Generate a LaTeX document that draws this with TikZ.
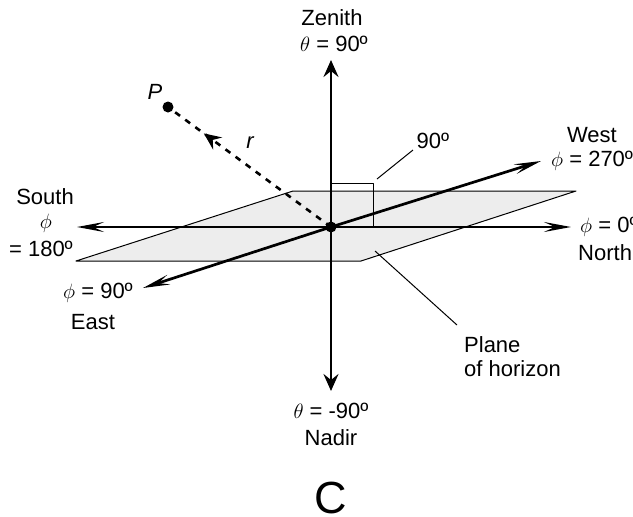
\documentclass[tikz,border=0pt]{standalone}
\usepackage{fontspec}
\setmainfont{Liberation Sans}
\usetikzlibrary{arrows.meta,decorations.markings}
\definecolor{planegray}{gray}{0.93}
\tikzset{
	lbl/.style={inner sep=0pt, font=\fontsize{22}{26}\selectfont},
	axis/.style={line width=2.7pt},
	tipfat/.style={-{Stealth[length=17pt,width=15pt,inset=6pt]}},
	tipthin/.style={-{Stealth[length=27pt,width=10pt,inset=11pt]}},
	leader/.style={line width=1pt},
}
\begin{document}
\begin{tikzpicture}[x=1pt, y=-1pt, line join=round]
	\useasboundingbox (0,0) rectangle (633,517);
	\coordinate (O) at (331,227);
	\coordinate (planeA) at (76,261); \coordinate (planeB) at (293,191);
	\coordinate (planeC) at (576,191); \coordinate (planeD) at (361,261);
	\coordinate (top) at (331,60); \coordinate (bottom) at (331,391);
	\coordinate (left) at (77,227); \coordinate (right) at (571,227);
	\coordinate (east) at (143,288); \coordinate (west) at (541,161);
	\coordinate (boxA) at (331,183); \coordinate (boxB) at (373,183); \coordinate (boxC) at (373,227);
	\coordinate (P) at (168,107);
	% plane
	\fill[planegray] (planeA)--(planeB)--(planeC)--(planeD)--cycle;
	\draw[leader] (planeA)--(planeB)--(planeC)--(planeD)--cycle;
	\draw[leader] (boxA)--(boxB)--(boxC);
	% axes
	\draw[axis,tipthin] (O)--(left);
	\draw[axis,tipthin] (O)--(right);
	\draw[axis,tipfat] (O)--(top);
	\draw[axis,tipfat] (O)--(bottom);
	\draw[axis,tipthin] (O)--(east);
	\draw[axis,tipthin] (O)--(west);
	\draw[line width=2.6pt,dash pattern=on 6pt off 6.5pt,decoration={markings,mark=at position .78 with {\arrow{Stealth[length=17pt,width=15pt,inset=6pt]}}},postaction={decorate}] (O)--(P);
	\fill (O) circle(5.5pt);
	\fill (P) circle(5.5pt);
	% labels
	\node[lbl] (zenith) at (332,18) {Zenith};
	\node[lbl] (zenithval) at (334,44) {$\theta$ = 90º};
	\node[lbl] (nadirval) at (331,411) {$\theta$ = -90º};
	\node[lbl] (nadir) at (331,438) {Nadir};
	\node[lbl] (pname) at (155,92) {\itshape P};
	\node[lbl] (rname) at (250,143) {\itshape r};
	\node[lbl] (angle) at (433,141) {90º};
	\node[lbl,anchor=east] (westname) at (617,135) {West};
	\node[lbl,anchor=west] (westval) at (551,161) {$\phi$ = 270º};
	\node[lbl] (south) at (45,197) {South};
	\node[lbl] (southphi) at (46,223) {$\phi$};
	\node[lbl,anchor=east] (southval) at (73,249) {= 180º};
	\node[lbl] (eastval) at (98,293) {$\phi$ = 90º};
	\node[lbl] (eastname) at (93,322) {East};
	\node[lbl,anchor=west] (northval) at (580,227) {$\phi$ = 0º};
	\node[lbl,anchor=west] (north) at (578,253) {North};
	\node[lbl,anchor=west] (planeone) at (464,345) {Plane};
	\node[lbl,anchor=west] (planetwo) at (464,369) {of horizon};
	\node[inner sep=0pt,font=\fontsize{45}{48}\selectfont] (panel) at (331,498) {C};
	% leaders
	\coordinate (angleleader) at (413,150); \coordinate (angleend) at (377,179);
	\coordinate (planeleader) at (457,325); \coordinate (planeend) at (375,251);
	\draw[leader] (angleleader)--(angleend);
	\draw[leader] (planeleader)--(planeend);
\end{tikzpicture}
\end{document}
